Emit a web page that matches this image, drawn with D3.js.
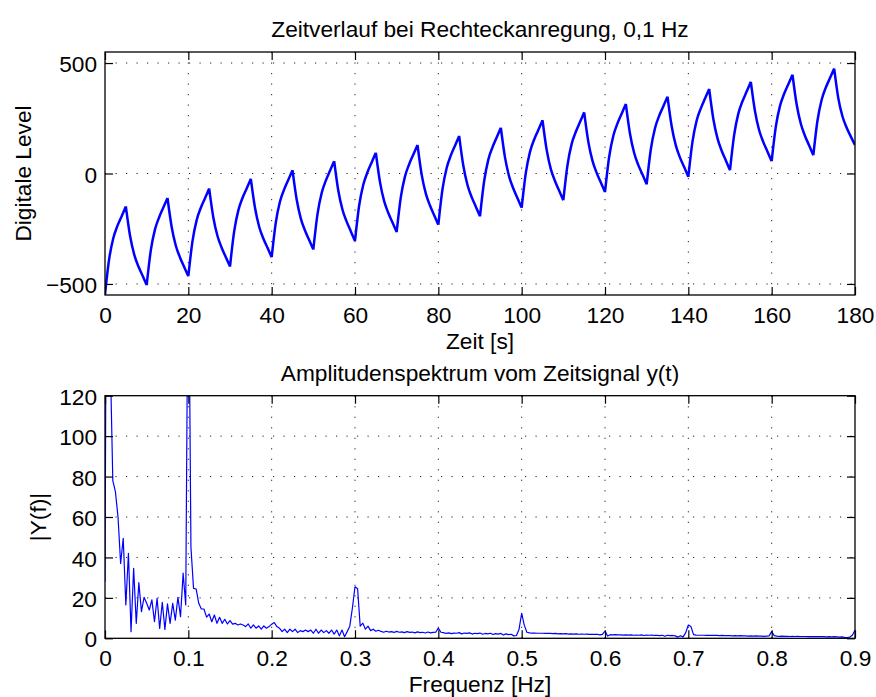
<!DOCTYPE html>
<html><head><meta charset="utf-8">
<script src="https://cdn.jsdelivr.net/npm/d3@7"></script>
<style>
body{margin:0;background:#fff}
svg{display:block}
text{font-family:"Liberation Sans",Arial,Helvetica,sans-serif;fill:#000}
</style>
</head><body>
<svg id="c" width="876" height="697"></svg>
<script>
// ---------- data ----------
const timeStep = 1; // s
const halfPeriod = 5; // s, switching interval of the square wave
const timeValues = [
 -545,-387,-292,-236,-193,-149,-281,-366,-420,-462,
 -505,-347,-253,-198,-154,-111,-242,-327,-380,-423,
 -465,-306,-211,-155,-112,-68,-199,-283,-336,-379,
 -421,-262,-167,-111,-68,-24,-155,-241,-294,-336,
 -379,-221,-127,-72,-28,15,-118,-204,-258,-301,
 -344,-184,-88,-32,12,56,-78,-164,-218,-262,
 -305,-145,-50,6,50,94,-39,-125,-179,-222,
 -265,-107,-13,42,86,129,-5,-91,-145,-189,
 -232,-71,25,82,126,170,35,-52,-107,-150,
 -194,-34,63,119,163,207,73,-14,-68,-112,
 -155,3,98,154,197,241,107,20,-34,-78,
 -121,38,134,189,233,277,143,57,3,-41,
 -84,76,171,227,271,315,180,93,38,-5,
 -49,110,205,261,304,348,214,127,72,29,
 -15,144,240,295,339,383,247,159,103,59,
 15,175,271,327,371,415,282,196,142,99,
 56,212,306,361,404,447,312,225,170,127,
 83,240,334,389,432,475,340,258,207,167,
 129
];
const freqStep = 0.003125; // Hz
const spectrumValues = [
 28,350,140,78,72.5,60,37,49.5,16.5,42,
 3.3,34.6,7.4,27.5,13.2,20.3,17.3,14,19,8.2,
 19.8,4.9,17.8,4.4,17,7.4,17.3,9,20.3,10.7,
 32.2,16.5,210,45,24.7,24.4,17.3,14.5,14.5,10.5,
 12,8.2,11.5,7.4,10.4,7.4,9.4,7.1,8.7,7,
 7.4,6.6,7.1,6.6,5.8,7.1,5,6.6,5,6.1,
 4.5,6.1,5,5.8,7,7.8,5.8,5,3.3,4.5,
 2.8,4.5,3.3,4.5,2.8,3.8,3.3,4.1,3.3,4.1,
 2.5,4.5,2.5,4.1,2.8,3.8,2.5,4.1,2.1,4.1,
 1.2,4.1,0.8,3.3,6,15,25.5,24.5,6,7.5,
 4.5,6,3.8,4.5,3.5,4,3.4,3.0,3.5,3.1,
 3.3,2.9,3.4,3.0,3.2,2.8,3.3,2.9,3.1,2.7,
 3.2,2.8,3.0,2.6,3.1,2.7,2.9,3.0,5.0,3.0,
 2.8,2.4,2.7,2.3,2.6,2.5,2.8,2.2,2.6,2.4,
 2.7,2.1,2.5,2.3,2.6,2.0,2.4,2.2,2.5,1.9,
 2.3,2.1,2.4,1.6,2.2,1.8,2.0,1.2,1.4,4.5,
 12.4,6.5,3.0,2.7,2.6,2.6,2.5,2.5,2.5,2.4,
 2.4,2.4,2.3,2.4,2.2,2.3,2.2,2.3,2.1,2.2,
 2.1,2.2,2.0,2.1,2.0,2.1,1.9,2.0,1.9,2.0,
 1.7,1.9,3.6,1.1,1.8,1.7,1.8,1.7,1.7,1.6,
 1.7,1.6,1.7,1.5,1.6,1.5,1.7,1.4,1.6,1.5,
 1.6,1.4,1.5,1.3,1.5,1.0,1.5,1.3,1.4,1.2,
 0.6,1.3,0.7,2.8,6.6,5.8,1.8,1.6,1.5,1.5,
 1.5,1.4,1.5,1.4,1.4,1.4,1.3,1.4,1.3,1.3,
 1.3,1.2,1.3,1.2,1.3,1.2,1.2,1.1,1.2,1.1,
 1.2,1.1,1.1,1.0,1.1,1.2,3.3,1.3,1.1,1.0,
 1.1,1.0,1.0,0.9,1.0,0.9,1.0,0.9,0.9,0.9,
 0.8,0.9,0.8,0.9,0.8,0.8,0.8,0.7,0.8,0.7,
 0.8,0.7,0.6,0.7,0.5,0.4,0.6,1.5,4.1
];
const timeTicks = [0,20,40,60,80,100,120,140,160,180];
const levelTicks = [-500,0,500];
const freqTicks = [0,0.1,0.2,0.3,0.4,0.5,0.6,0.7,0.8,0.9];
const ampTicks = [0,20,40,60,80,100,120];
const titles = ["Zeitverlauf bei Rechteckanregung, 0,1 Hz","Amplitudenspektrum vom Zeitsignal y(t)"];
const xLabels = ["Zeit [s]","Frequenz [Hz]"];
const yLabels = ["Digitale Level","|Y(f)|"];

// ---------- drawing ----------
const svg = d3.select("#c");
const FS = 22.7;
const L = 105, R = 855;

function panel(cfg){
  const {top,bottom,xDom,yDom,xt,yt,xfmt,yfmt,pts,seg,lw,title,xlab,ylab,ylabX,id} = cfg;
  const x = d3.scaleLinear(xDom,[L,R]);
  const y = d3.scaleLinear(yDom,[bottom,top]);
  const g = svg.append("g");
  // grid
  const grid = g.append("g").attr("stroke","#222").attr("stroke-width",1).attr("stroke-dasharray","1.2,9.3");
  xt.filter(v=>v!==xDom[0]&&v!==xDom[1]).forEach(v=>{
    grid.append("line").attr("x1",x(v)).attr("x2",x(v)).attr("y1",top).attr("y2",bottom);
  });
  yt.filter(v=>v!==yDom[0]&&v!==yDom[1]).forEach(v=>{
    grid.append("line").attr("x1",L).attr("x2",R).attr("y1",y(v)).attr("y2",y(v));
  });
  // clip
  svg.append("clipPath").attr("id",id).append("rect").attr("x",L).attr("y",top).attr("width",R-L).attr("height",bottom-top);
  // line (optionally split into monotone pieces between switching instants)
  let d;
  if (seg) {
    const gen = d3.line().x(p=>x(p[0])).y(p=>y(p[1])).curve(d3.curveMonotoneX);
    const parts = [];
    for (let i=0;i+1<pts.length;i+=seg) parts.push(gen(pts.slice(i,i+seg+1)));
    d = parts.join("");
  } else {
    d = d3.line().x(p=>x(p[0])).y(p=>y(p[1]))(pts);
  }
  g.append("path").attr("clip-path",`url(#${id})`)
    .attr("fill","none").attr("stroke","#0000ff").attr("stroke-width",lw).attr("stroke-linejoin","round")
    .attr("d",d);
  // axes
  const ax = (axis,tr)=>{
    const a = g.append("g").attr("transform",tr).call(axis);
    a.select(".domain").remove();
    a.selectAll(".tick line").attr("stroke","#000").attr("stroke-width",1.2);
    a.selectAll("text").attr("font-size",FS).attr("font-family",'"Liberation Sans",Arial,sans-serif').attr("fill","#000");
    return a;
  };
  ax(d3.axisBottom(x).tickValues(xt).tickFormat(xfmt).tickSize(-8).tickPadding(12),`translate(0,${bottom})`);
  ax(d3.axisTop(x).tickValues(xt).tickFormat("").tickSize(-8),`translate(0,${top})`);
  const ya = ax(d3.axisLeft(y).tickValues(yt).tickFormat(yfmt).tickSize(-8).tickPadding(8),`translate(${L},0)`);
  ya.selectAll("text").attr("dy","0.38em");
  ax(d3.axisRight(y).tickValues(yt).tickFormat("").tickSize(-8),`translate(${R},0)`);
  // box
  g.append("rect").attr("x",L).attr("y",top).attr("width",R-L).attr("height",bottom-top)
    .attr("fill","none").attr("stroke","#000").attr("stroke-width",1.3);
  // texts
  g.append("text").attr("x",(L+R)/2).attr("y",top-15).attr("text-anchor","middle").attr("font-size",FS).text(title);
  g.append("text").attr("x",(L+R)/2).attr("y",bottom+54).attr("text-anchor","middle").attr("font-size",FS).text(xlab);
  g.append("text").attr("transform",`translate(${ylabX},${(top+bottom)/2}) rotate(-90)`).attr("text-anchor","middle").attr("font-size",FS).text(ylab);
}

panel({id:"c1",top:52,bottom:295,xDom:[0,180],yDom:[-550,550],xt:timeTicks,yt:levelTicks,
  xfmt:d3.format("d"),yfmt:d3.format("d"),
  pts:timeValues.map((v,i)=>[i*timeStep,v]),seg:halfPeriod/timeStep,lw:2.5,
  title:titles[0],xlab:xLabels[0],ylab:yLabels[0],ylabX:31});
panel({id:"c2",top:395.7,bottom:638.3,xDom:[0,0.9],yDom:[0,120],xt:freqTicks,yt:ampTicks,
  xfmt:d=>d===0?"0":d3.format(".1f")(d),yfmt:d3.format("d"),
  pts:spectrumValues.map((v,i)=>[i*freqStep,v]),seg:0,lw:1.2,
  title:titles[1],xlab:xLabels[1],ylab:yLabels[1],ylabX:46});
</script>
</body></html>
